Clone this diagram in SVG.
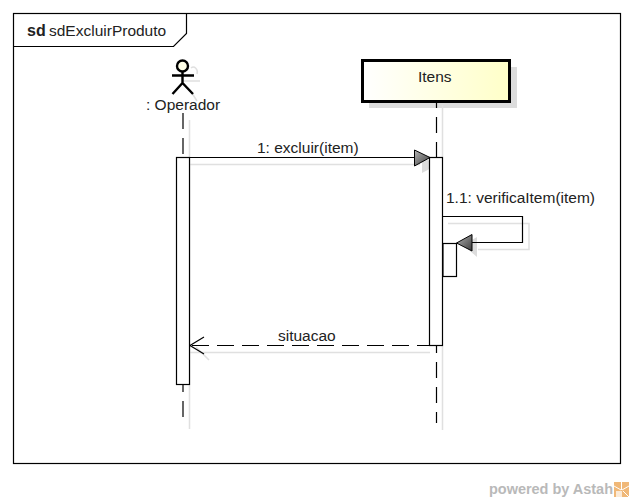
<svg xmlns="http://www.w3.org/2000/svg" width="634" height="502" viewBox="0 0 634 502">
<defs>
<linearGradient id="nodeFill" x1="0" y1="0" x2="1" y2="0"><stop offset="0" stop-color="#ffffff"/><stop offset="1" stop-color="#ffffc8"/></linearGradient>
<linearGradient id="headFill" x1="0" y1="0" x2="1" y2="1"><stop offset="0" stop-color="#b4b4b4"/><stop offset="1" stop-color="#3c3c3c"/></linearGradient>
</defs>
<style>
text{font-family:"Liberation Sans",Arial,sans-serif;font-size:15.500px;fill:#222}
.sh{fill:none;stroke:#e0e0e0;stroke-width:1.500}
.shf{fill:#dcdcdc;stroke:none}
.ln{fill:none;stroke:#000;stroke-width:1.200}
.ll{fill:none;stroke:#000;stroke-width:1.200;stroke-dasharray:16 9}
.act{fill:#fff;stroke:#000;stroke-width:1.200}
.hd{fill:url(#headFill);stroke:#000;stroke-width:1}
</style>
<rect width="634" height="502" fill="#fff"/>
<g id="frame">
<rect x="13.500" y="13.500" width="607" height="450" fill="#fff" stroke="#000" stroke-width="1.200"/>
<path class="ln" d="M13.500 46.500H173.500L186.500 33.500V13.500"/>
<text x="27" y="36" font-weight="bold" style="font-size:16px">sd</text>
<text x="49" y="36">sdExcluirProduto</text>
</g>
<g id="shadows">
<rect x="369" y="67" width="148" height="41" class="shf"/>
<path class="sh" d="M189.500 120V429"/>
<path class="sh" d="M442.500 105V157M442.500 346V430"/>
<path class="sh" d="M190 164.500H420M190 352.500H430"/>
<path class="sh" d="M448 223.500H529V249.500H478"/>
<polygon class="shf" points="422,157 422,173 437,165"/>
<polygon class="shf" points="463,245 477,237 477,257"/>
<path class="sh" d="M196 347L209 360"/>
<path class="sh" d="M191 68a4 5 0 0 1 6 6M182 81H200M190 90L197 101"/>
</g>
<g id="connectors">
<path class="ll" d="M183 113V157"/>
<path class="ll" style="stroke-dashoffset:9" d="M183 385V417"/>
<path class="ll" style="stroke-dashoffset:10" d="M436.500 102V157"/>
<path class="ll" style="stroke-dashoffset:9" d="M436.500 346V423"/>
<path class="ln" d="M190 157.500H415"/>
<polygon class="hd" points="414.500,150 414.500,166 430,157.500"/>
<path class="ln" d="M443 216.500H522.500V242.500H472"/>
<polygon class="hd" points="456.500,243 472,234.500 472,251"/>
<path class="ll" style="stroke-dasharray:17 8;stroke-dashoffset:4" d="M430 345.500H190"/>
<path class="ln" d="M204 337L190 345.500L204 354"/>
<text x="257" y="153">1: excluir(item)</text>
<text x="446" y="203">1.1: verificaItem(item)</text>
<text x="278" y="341">situacao</text>
</g>
<g id="operador">
<circle cx="182.500" cy="66" r="5.500" fill="#ffffe8" stroke="#000" stroke-width="2.400"/>
<path d="M182.500 72V83M172 75.500H194M172.500 94L182.500 83L193 94" fill="none" stroke="#000" stroke-width="2.400"/>
<text x="146" y="110">: Operador</text>
</g>
<g id="itens">
<rect x="362.500" y="60.500" width="147" height="41" fill="url(#nodeFill)" stroke="#000" stroke-width="3"/>
<text x="418" y="82">Itens</text>
</g>
<g id="activations">
<rect class="act" x="176.500" y="157.500" width="13" height="227"/>
<rect class="act" x="429.500" y="157.500" width="13" height="188"/>
<rect class="act" x="443" y="243.500" width="13.500" height="33"/>
</g>
<g id="watermark">
<text x="489" y="494" font-weight="bold" textLength="124" lengthAdjust="spacing" style="fill:#b9b9b9;font-size:14.500px">powered by Astah</text>
<rect x="614" y="482" width="15" height="15" fill="#f0b878"/>
<path d="M621.500 482V490M614 486L621 490M629 486L622 490" fill="none" stroke="#fff" stroke-width="1"/>
<rect x="616" y="491" width="6" height="6" fill="#fff" opacity="0.7"/>
<path d="M623 491L629 497" fill="none" stroke="#fff" stroke-width="1"/>
</g>
</svg>
